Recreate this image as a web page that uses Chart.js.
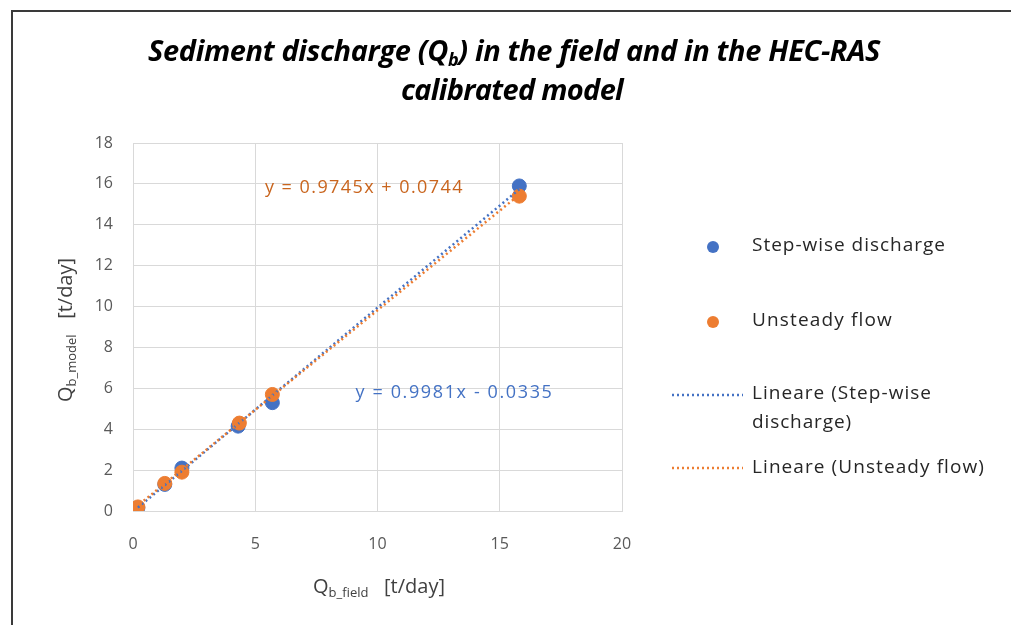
<!DOCTYPE html>
<html>
<head>
<meta charset="utf-8">
<script src="https://cdn.jsdelivr.net/npm/chart.js@4"></script>
<style>
  html, body { margin: 0; padding: 0; background: #fff; overflow: hidden; }
  #frame { position: absolute; left: 11px; top: 10px; width: 1100px; height: 700px; border: 2px solid #3a3a3a; }
  #wrap { position: absolute; left: 0; top: 0; width: 1011px; height: 625px; }
</style>
</head>
<body>
<div id="frame"></div>
<div id="wrap"><canvas id="chart"></canvas></div>
<script>
// field vs model sediment discharge [t/day]
const stepField = [0.2, 1.3, 2.0, 4.3, 5.7, 15.8];
const stepModel = [0.15, 1.3, 2.1, 4.15, 5.3, 15.9];
const unsteadyField = [0.2, 1.3, 2.0, 4.35, 5.7, 15.8];
const unsteadyModel = [0.2, 1.35, 1.9, 4.3, 5.7, 15.4];

// trendline coefficients as printed on the chart
const stepFit = [0.9981, -0.0335];
const unsteadyFit = [0.9745, 0.0744];

const xTicks = [0, 5, 10, 15, 20];
const yTicks = [0, 2, 4, 6, 8, 10, 12, 14, 16, 18];

const BLUE = '#4472C4';
const ORANGE = '#ED7D31';
const FONT = '"Open Sans", sans-serif';

const toPts = (xs, ys) => xs.map((x, i) => ({ x: x, y: ys[i] }));
const fitLine = (xs, fit) => {
  const lo = Math.min(...xs), hi = Math.max(...xs);
  return [{ x: lo, y: fit[0] * lo + fit[1] }, { x: hi, y: fit[0] * hi + fit[1] }];
};

// text pieces: [text, font, dy]; spread to a given width with letterSpacing
function drawRun(ctx, parts, x, y, width, align) {
  ctx.letterSpacing = '0px';
  let w = 0, n = 0;
  parts.forEach(p => { ctx.font = p[1]; w += ctx.measureText(p[0]).width; n += p[0].length; });
  const ls = width ? (width - w) / n : 0;
  ctx.letterSpacing = ls + 'px';
  let cx = align === 'center' ? x - (w + ls * n) / 2 : x;
  ctx.textAlign = 'left';
  parts.forEach(p => {
    ctx.font = p[1];
    ctx.fillText(p[0], cx, y + (p[2] || 0));
    cx += ctx.measureText(p[0]).width;
  });
  ctx.letterSpacing = '0px';
}

const decor = {
  id: 'decor',
  afterDraw(chart) {
    const ctx = chart.ctx;
    const xs = chart.scales.x, ys = chart.scales.y;
    ctx.save();
    ctx.textBaseline = 'middle';

    // title
    ctx.fillStyle = '#000';
    const tf = 'italic bold 29px ' + FONT, sf = 'italic bold 18px ' + FONT;
    drawRun(ctx, [['Sediment discharge (Q', tf], ['b', sf, 8], [') in the field and in the HEC-RAS', tf]], 514, 53, 732, 'center');
    drawRun(ctx, [['calibrated model', tf]], 512, 92, 222, 'center');

    // axis titles
    ctx.fillStyle = '#404040';
    const af = '20px ' + FONT, asf = '13px ' + FONT;
    drawRun(ctx, [['Q', af], ['b_field', asf, 6], ['   [t/day]', af]], 379, 587, 0, 'center');
    ctx.save();
    ctx.translate(66, 330);
    ctx.rotate(-Math.PI / 2);
    drawRun(ctx, [['Q', af], ['b_model', asf, 6], ['   [t/day]', af]], 0, 0, 0, 'center');
    ctx.restore();

    // trendline equations
    const ef = '18px ' + FONT;
    ctx.fillStyle = '#C9651E';
    drawRun(ctx, [['y = ' + unsteadyFit[0] + 'x + ' + unsteadyFit[1], ef]], xs.getPixelForValue(5.4), ys.getPixelForValue(15.8), 199);
    ctx.fillStyle = BLUE;
    drawRun(ctx, [['y = ' + stepFit[0] + 'x - ' + Math.abs(stepFit[1]), ef]], xs.getPixelForValue(9.1), ys.getPixelForValue(5.8), 198);

    // legend
    const lf = '19px ' + FONT;
    const lx = 752;
    ctx.beginPath(); ctx.arc(713, 247, 6, 0, Math.PI * 2); ctx.fillStyle = BLUE; ctx.fill();
    ctx.beginPath(); ctx.arc(713, 322, 6, 0, Math.PI * 2); ctx.fillStyle = ORANGE; ctx.fill();
    ctx.lineWidth = 2.5;
    ctx.setLineDash([2, 3]);
    ctx.strokeStyle = BLUE;
    ctx.beginPath(); ctx.moveTo(672, 395); ctx.lineTo(743, 395); ctx.stroke();
    ctx.strokeStyle = ORANGE;
    ctx.beginPath(); ctx.moveTo(672, 468); ctx.lineTo(743, 468); ctx.stroke();
    ctx.setLineDash([]);
    ctx.fillStyle = '#262626';
    drawRun(ctx, [['Step-wise discharge', lf]], lx, 246, 194);
    drawRun(ctx, [['Unsteady flow', lf]], lx, 321, 141);
    drawRun(ctx, [['Lineare (Step-wise', lf]], lx, 394, 180);
    drawRun(ctx, [['discharge)', lf]], lx, 423, 100);
    drawRun(ctx, [['Lineare (Unsteady flow)', lf]], lx, 468, 233);
    ctx.restore();
  }
};

new Chart(document.getElementById('chart'), {
  type: 'scatter',
  data: {
    datasets: [
      {
        label: 'Lineare (Step-wise discharge)',
        type: 'line',
        data: fitLine(stepField, stepFit),
        borderColor: BLUE,
        borderWidth: 2.5,
        borderDash: [2, 3],
        pointRadius: 0,
        order: 1,
      },
      {
        label: 'Lineare (Unsteady flow)',
        type: 'line',
        data: fitLine(unsteadyField, unsteadyFit),
        borderColor: ORANGE,
        borderWidth: 2.5,
        borderDash: [2, 3],
        borderDashOffset: 2.5,
        pointRadius: 0,
        order: 0,
      },
      {
        label: 'Step-wise discharge',
        data: toPts(stepField, stepModel),
        backgroundColor: BLUE,
        borderColor: BLUE,
        pointRadius: 7,
        order: 3,
      },
      {
        label: 'Unsteady flow',
        data: toPts(unsteadyField, unsteadyModel),
        backgroundColor: ORANGE,
        borderColor: ORANGE,
        pointRadius: 7,
        order: 2,
      },
    ],
  },
  options: {
    responsive: true,
    maintainAspectRatio: false,
    animation: false,
    layout: { padding: { left: 0, right: 389, top: 143, bottom: 0 } },
    plugins: { legend: { display: false }, tooltip: { enabled: false } },
    scales: {
      x: {
        type: 'linear',
        min: 0, max: 20,
        afterBuildTicks: s => { s.ticks = xTicks.map(v => ({ value: v })); },
        afterFit: s => { s.height = 114; },
        grid: { color: '#D9D9D9', lineWidth: 1, drawTicks: false },
        border: { color: '#D9D9D9' },
        ticks: { color: '#595959', font: { family: FONT, size: 16 }, padding: 24 },
      },
      y: {
        type: 'linear',
        min: 0, max: 18,
        afterBuildTicks: s => { s.ticks = yTicks.map(v => ({ value: v })); },
        afterFit: s => { s.width = 133; },
        grid: { color: '#D9D9D9', lineWidth: 1, drawTicks: false },
        border: { color: '#D9D9D9' },
        ticks: { color: '#595959', font: { family: FONT, size: 16 }, padding: 20 },
      },
    },
  },
  plugins: [decor],
});
</script>
</body>
</html>
